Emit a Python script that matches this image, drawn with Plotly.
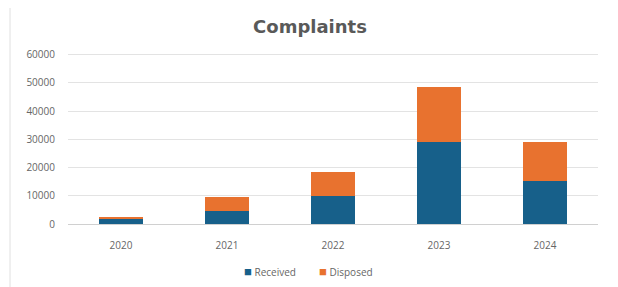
import plotly.graph_objects as go

years = ["2020", "2021", "2022", "2023", "2024"]
received = [1950, 4600, 10000, 28900, 15100]
disposed = [200, 4800, 8300, 19500, 13800]
y_ticks = [0, 10000, 20000, 30000, 40000, 50000, 60000]
series_names = ["Received", "Disposed"]

BLUE = "#17608A"
ORANGE = "#E8722F"
GREY = "#595959"

W, H = 610, 279
L, R, T, B = 60, 20, 44, 63
PW, PH = W - L - R, H - T - B

fig = go.Figure()
fig.add_trace(go.Bar(x=years, y=received, name=series_names[0], marker_color=BLUE,
                     marker_line_width=0))
fig.add_trace(go.Bar(x=years, y=disposed, name=series_names[1], marker_color=ORANGE,
                     marker_line_width=0))

fig.update_layout(
    barmode="stack",
    bargap=0.59,
    width=W, height=H,
    margin=dict(l=L, r=R, t=T, b=B, autoexpand=False),
    paper_bgcolor="white", plot_bgcolor="white",
    font=dict(family="Open Sans, Arial, sans-serif", color=GREY, size=10),
    title=dict(text="<b>Complaints</b>", x=(310 - 8) / W, xanchor="center",
               y=1 - 19 / H, yanchor="middle",
               font=dict(size=18, color=GREY, family="DejaVu Sans, sans-serif"),
               automargin=False),
    showlegend=False,
)
fig.update_yaxes(range=[0, 60900], tickvals=y_ticks, ticktext=[str(v) for v in y_ticks],
                 showgrid=True, gridcolor="#E3E3E3", gridwidth=1, zeroline=False,
                 showline=False, ticks="", ticklabelstandoff=12, automargin=False,
                 tickfont=dict(size=10, color="#666666"))
fig.update_xaxes(showgrid=False, showline=True, linecolor="#D0D0D0", linewidth=1,
                 ticks="", ticklabelstandoff=12, automargin=False,
                 tickfont=dict(size=10, color="#666666"))

# legend built from the series names and colours
colors = [BLUE, ORANGE]
centers = [262, 338]
for name, c, cx in zip(series_names, colors, centers):
    fig.add_annotation(xref="paper", yref="paper", x=(cx - L) / PW, y=-(263 - (H - B)) / PH,
                       xanchor="center", yanchor="middle", showarrow=False,
                       text=f"<span style='color:{c};font-size:13px'>■</span> {name}",
                       font=dict(size=10, color="#666666"))

fig.add_shape(type="line", xref="paper", yref="paper",
              x0=(2 - L) / PW, x1=(2 - L) / PW, y0=-0.5, y1=1.4,
              line=dict(color="#E0E0E0", width=1))

fig.write_html("out.html")
